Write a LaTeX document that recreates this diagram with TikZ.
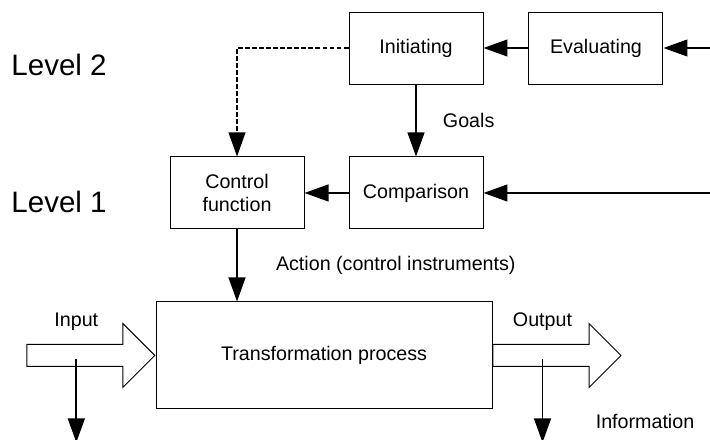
\documentclass[tikz,border=0pt]{standalone}
\usepackage{fontspec}
\setmainfont{Liberation Sans}
\usetikzlibrary{shapes.arrows,arrows.meta,calc,positioning}
\tikzset{
    block/.style = {draw, rectangle, line width=0.7pt,
        minimum height=1.8cm,
        minimum width=3.35cm, align=center,
        font=\fontsize{14}{17}\selectfont},
    process/.style = {block, minimum height=2.675cm, minimum width=8.4cm},
    flow/.style = {draw, single arrow, line width=0.7pt,
        inner xsep=0pt, inner ysep=0.2625cm,
        minimum height=3.2cm, minimum width=1.575cm,
        single arrow head extend=0.525cm},
    lbl/.style = {inner sep=0pt, font=\fontsize{14}{17}\selectfont},
    level/.style = {inner sep=0pt, anchor=base west, font=\fontsize{21}{25}\selectfont},
    link/.style = {draw, line width=1.4pt},
    dashlink/.style = {draw, line width=1pt, dash pattern=on 3.5pt off 1.5pt},
}

\begin{document}
\begin{tikzpicture}[auto, node distance=1.8cm, >={Triangle[length=6mm, width=4.2mm]}]
		\useasboundingbox (0,0) rectangle (17.75,-11);
		% Level labels
		\node [level] (lvltwo) at (0.28,-1.9) {Level 2};
		\node [level] (lvlone) at (0.28,-5.3) {Level 1};
		
		% Initiating block
		\node [block] (init) at (10.4,-1.2) {Initiating};
		% Evaluating block
		\node [block, right=1.125cm of init] (eval) {Evaluating};
		% Comparison block
		\node [block, below=of init] (cmp) {Comparison};
		% Control function block
		\node [block, left=1.1cm of cmp] (ctrl) {Control\\function};
		
		% Transformation process
		\node [process, anchor=north west] (trans) at ($(ctrl.south west)+(-0.35,-1.8)$) {Transformation process};
		
		% input and output flows
		\node [flow, anchor=tip] (inflow) at (trans.west) {};
		\node [flow, anchor=tail] (outflow) at (trans.east) {};
		\node [lbl] (inlbl) at ($(inflow.tail)+(1.25,0.85)$) {Input};
		\node [lbl] (outlbl) at ($(outflow.tail)+(1.25,0.85)$) {Output};
		
		% information taps
		\coordinate (infork) at ($(inflow.tail)+(1.25,-0.1)$);
		\coordinate (inend) at ($(infork)+(0,-2.075)$);
		\coordinate (outfork) at ($(outflow.tail)+(1.25,-0.1)$);
		\coordinate (outend) at ($(outfork)+(0,-2.075)$);
		\node [lbl, anchor=west] (info) at ($(outfork)+(1.325,-1.55)$) {Information};
		
		% inputs from the right
		\coordinate [right=1.2cm of eval] (evalin);
		\coordinate (cmpin) at (evalin |- cmp);
		
		% connecting lines
		\draw [link,->] (evalin) -- (eval);
		\draw [link,->] (eval) -- (init);
		\draw [link,->] (init) -- node[lbl, right=0.65cm] {Goals} (cmp);
		\draw [link,->] (cmpin) -- (cmp);
		\draw [link,->] (cmp) -- (ctrl);
		\draw [dashlink,->] (init.west) -| (ctrl.north);
		\draw [link,->] (ctrl.south) -- node[lbl, right=0.95cm] {Action (control instruments)} (ctrl.south |- trans.north);
		\draw [link,->] (infork) -- (inend);
		\draw [link,->] (outfork) -- (outend);
	\end{tikzpicture}
\end{document}
